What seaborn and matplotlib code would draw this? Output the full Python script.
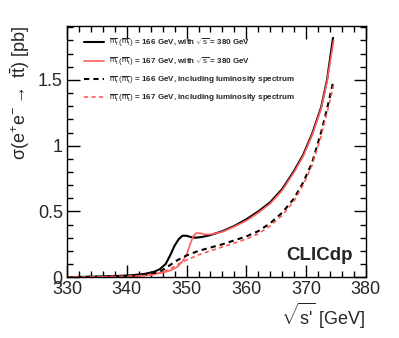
import matplotlib
matplotlib.use("Agg")
import matplotlib.pyplot as plt
import seaborn as sns
from matplotlib.ticker import MultipleLocator, FixedLocator

sns.set_theme(style="ticks")
plt.rcParams['font.family'] = ['Liberation Sans', 'DejaVu Sans']
plt.rcParams['mathtext.fontset'] = 'custom'
plt.rcParams['mathtext.rm'] = 'Liberation Sans'
plt.rcParams['mathtext.it'] = 'Liberation Sans:italic'
plt.rcParams['mathtext.bf'] = 'Liberation Sans:bold'

# Data
x_166 = [330, 334, 338, 341, 343, 344.5, 345.5, 346.5, 347.3, 348, 348.7, 349.3, 350, 350.7,
         351.5, 352.5, 354, 356, 358, 360, 362, 364, 366, 368, 369.5, 371, 372.5, 373.5, 374.5]
y_166 = [0.0, 0.003, 0.008, 0.015, 0.025, 0.04, 0.06, 0.1, 0.17, 0.24, 0.29, 0.315, 0.315, 0.305,
         0.30, 0.305, 0.32, 0.35, 0.39, 0.44, 0.5, 0.57, 0.67, 0.81, 0.93, 1.09, 1.29, 1.5, 1.82]

x_167 = [330, 338, 342, 344, 345.5, 346.5, 347.5, 348.5, 349.3, 350, 350.6, 351.1, 351.6, 352.3,
         353, 354, 356, 358, 360, 362, 364, 366, 368, 369.5, 371, 372.5, 373.5, 374.6]
y_167 = [0.0, 0.004, 0.01, 0.02, 0.03, 0.04, 0.055, 0.08, 0.12, 0.17, 0.25, 0.31, 0.335, 0.335,
         0.325, 0.325, 0.345, 0.385, 0.43, 0.49, 0.56, 0.66, 0.8, 0.92, 1.08, 1.28, 1.49, 1.8]

x_166_lumi = [330, 338, 342, 344, 345.5, 346.5, 347.5, 348.5, 350, 352, 354, 356, 358, 360, 362,
              364, 366, 368, 369.5, 371, 372.5, 373.5, 374.5]
y_166_lumi = [0.0, 0.005, 0.012, 0.025, 0.04, 0.07, 0.1, 0.13, 0.165, 0.2, 0.225, 0.25, 0.28, 0.31,
              0.35, 0.41, 0.49, 0.6, 0.72, 0.87, 1.1, 1.28, 1.48]

x_167_lumi = [330, 340, 344, 346, 347.5, 349, 350, 352, 354, 356, 358, 360, 362, 364, 366, 368,
              369.5, 371, 372.5, 373.5, 374.6]
y_167_lumi = [0.0, 0.004, 0.015, 0.04, 0.07, 0.11, 0.13, 0.17, 0.2, 0.23, 0.26, 0.29, 0.33, 0.39,
              0.47, 0.58, 0.7, 0.85, 1.07, 1.25, 1.46]

x_ticks = [330, 340, 350, 360, 370, 380]
y_ticks = [0, 0.5, 1, 1.5]
y_tick_labels = ["0", "0.5", "1", "1.5"]

mt = r"$\overline{\mathrm{m}}_\mathrm{t}\,(\overline{\mathrm{m}}_\mathrm{t})$"
labels = [
    mt + r" = 166 GeV, with $\sqrt{\mathrm{s}}$ = 380 GeV",
    mt + r" = 167 GeV, with $\sqrt{\mathrm{s}}$ = 380 GeV",
    mt + " = 166 GeV, including luminosity spectrum",
    mt + " = 167 GeV, including luminosity spectrum",
]

fig = plt.figure(figsize=(3.99, 3.38), dpi=100)
ax = fig.add_axes([0.168, 0.180, 0.749, 0.743])

black = "#000000"
red = "#ff5b5b"
sns.lineplot(x=x_166, y=y_166, ax=ax, color=black, lw=1.5, label=labels[0])
sns.lineplot(x=x_167, y=y_167, ax=ax, color=red, lw=1.2, label=labels[1])
sns.lineplot(x=x_166_lumi, y=y_166_lumi, ax=ax, color=black, lw=1.5, ls=(0, (2.5, 2)), label=labels[2])
sns.lineplot(x=x_167_lumi, y=y_167_lumi, ax=ax, color=red, lw=1.2, ls=(0, (2.5, 2)), label=labels[3])

ax.set_xlim(330, 380)
ax.set_ylim(0, 1.91)
ax.xaxis.set_major_locator(FixedLocator(x_ticks))
ax.xaxis.set_minor_locator(MultipleLocator(2))
ax.yaxis.set_major_locator(FixedLocator(y_ticks))
ax.yaxis.set_minor_locator(MultipleLocator(0.1))
ax.set_xticklabels([str(v) for v in x_ticks])
ax.set_yticklabels(y_tick_labels)
ax.tick_params(which='both', direction='in', bottom=True, left=True, top=True, right=True,
               labelsize=13, color='black', width=1.0)
ax.tick_params(which='major', length=9)
ax.tick_params(which='minor', length=4.5)
ax.tick_params(axis='x', pad=3)
ax.tick_params(axis='y', pad=3)
for s in ax.spines.values():
    s.set_visible(True)
    s.set_color('black')
    s.set_linewidth(1.0)

ax.set_xlabel(r"$\sqrt{\text{s'}}$ [GeV]", fontsize=13, loc='right', labelpad=2)
ax.set_ylabel(r"σ(e$^{+}$e$^{-}$$\rightarrow$ t$\bar{\mathrm{t}}$) [pb]", fontsize=13, loc='top', labelpad=4)

leg = ax.legend(loc='upper left', bbox_to_anchor=(0.03, 0.99), frameon=False, fontsize=5.8,
                handlelength=2.5, handletextpad=0.6, labelspacing=0.75, borderaxespad=0.6)
for t in leg.get_texts():
    t.set_fontweight('bold')

ax.text(0.955, 0.085, "CLICdp", transform=ax.transAxes, ha='right', va='center',
        fontsize=13.5, fontweight='bold')

fig.savefig("out.png", dpi=100)
